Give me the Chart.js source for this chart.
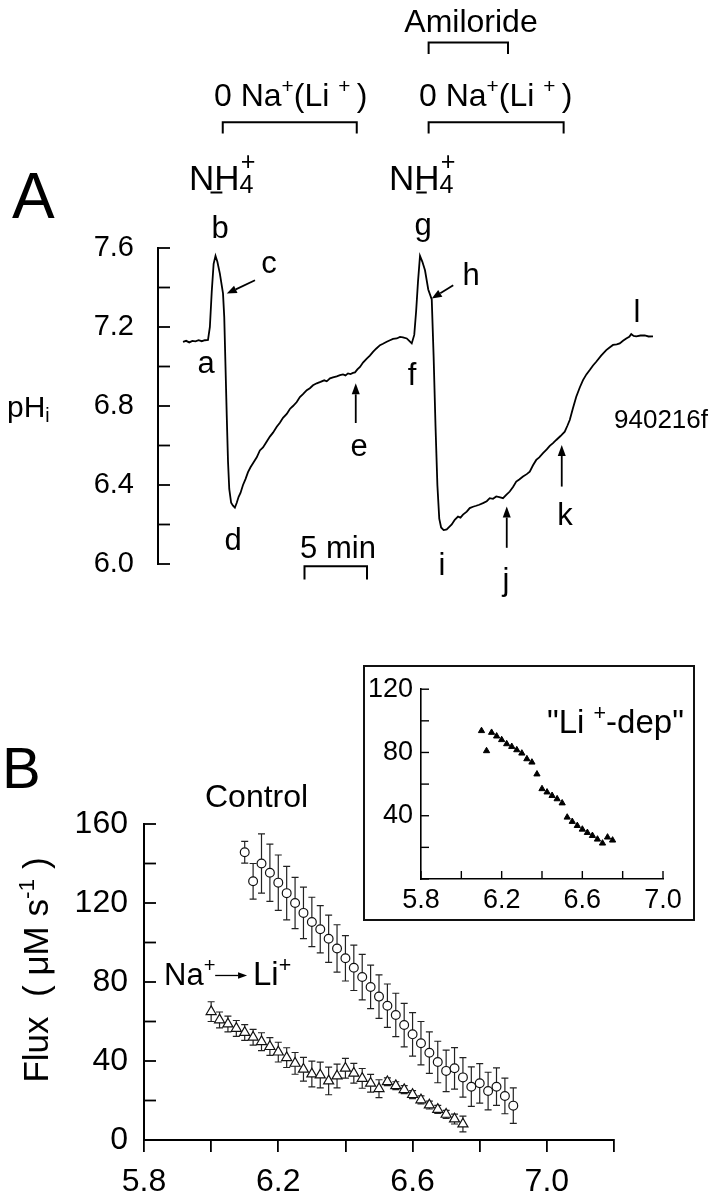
<!DOCTYPE html>
<html>
<head>
<meta charset="utf-8">
<script src="https://cdn.jsdelivr.net/npm/chart.js@4.4.1/dist/chart.umd.min.js"></script>
<style>
  html, body { margin: 0; padding: 0; background: #fff; }
  #fig { position: relative; width: 710px; height: 1200px; overflow: hidden; background: #fff; }
  canvas { position: absolute; }
  #insetBox { position: absolute; left: 363px; top: 665px; width: 332px; height: 256px; box-sizing: border-box; border: 2px solid #111; background: #fff; }
  .t { position: absolute; white-space: nowrap; line-height: 1; color: #000; }
  .t sup { font-size: 0.65em; position: relative; top: -0.62em; vertical-align: baseline; line-height: 1; }
  .t sub { font-size: 0.65em; position: relative; top: 0.3em; vertical-align: baseline; line-height: 1; }
  .st { position: relative; display: inline-block; font-size: 0.72em; }
  .st .dn { position: relative; top: 0.12em; }
  .st .up { position: absolute; left: 0.05em; top: -0.8em; }
  #flux { position: absolute; left: 35px; top: 970px; transform: translate(-50%, -50%) rotate(-90deg); white-space: nowrap; line-height: 1; }
</style>
</head>
<body>
<div id="fig">
  <canvas id="traceA" width="710" height="600" style="left:0;top:0"></canvas>
  <canvas id="fluxB" width="710" height="600" style="left:0;top:600px"></canvas>
  <div id="insetBox"></div>
  <canvas id="insetB" width="332" height="256" style="left:363px;top:665px"></canvas>
  <div id="labels"></div>
</div>
<script>
// ---------- Panel A: pHi trace (time in min, pHi) ----------
const TIME_MIN = [
  0.0, 0.25, 0.5, 0.75, 1.0, 1.25, 1.5, 1.75, 2.0,
  2.15, 2.3, 2.45, 2.6, 2.75, 2.95, 3.2,
  3.3, 3.4, 3.5, 3.6, 3.7, 3.85, 4.0, 4.15,
  4.3, 4.45, 4.6, 4.8, 5.0, 5.2, 5.4, 5.65, 5.9, 6.15, 6.4, 6.55, 6.7, 6.95, 7.2, 7.5, 7.75,
  8.0, 8.3, 8.55, 8.8, 9.1, 9.35, 9.6, 9.9, 10.15, 10.4, 10.7, 11.0, 11.3, 11.5, 11.76,
  12.0, 12.3, 12.56, 12.8, 13.0, 13.2, 13.4, 13.6, 13.76, 13.95, 14.16, 14.4, 14.7, 14.95,
  15.2, 15.45, 15.76, 16.0, 16.3, 16.56, 16.8, 17.1, 17.36, 17.6, 17.9, 18.1, 18.3,
  18.5, 18.65, 18.8, 18.96, 19.15, 19.36, 19.62, 19.9,
  20.05, 20.2, 20.35, 20.5, 20.65, 20.85, 20.94,
  21.1, 21.34, 21.5, 21.74, 22.0, 22.2, 22.4, 22.7, 22.94, 23.2, 23.46, 23.7, 24.0, 24.3,
  24.54, 24.8, 25.06, 25.3, 25.6, 25.9, 26.14, 26.4, 26.66, 26.9, 27.2, 27.5, 27.74, 28.0,
  28.26, 28.5, 28.8, 29.1, 29.34, 29.6, 29.86, 30.2, 30.54, 30.75, 30.94, 31.2, 31.46, 31.75,
  32.0, 32.27, 32.54, 32.8, 33.06, 33.45, 33.86, 34.1, 34.4, 34.7, 34.94, 35.2, 35.46, 35.7,
  35.86, 36.05, 36.26, 36.6, 36.94, 37.25, 37.6
];
const PH_I = [
  7.125, 7.13, 7.122, 7.13, 7.127, 7.133, 7.128, 7.133, 7.135,
  7.20, 7.38, 7.52, 7.56, 7.53, 7.47, 7.37,
  7.25, 7.00, 6.75, 6.52, 6.38, 6.31, 6.295, 6.285,
  6.31, 6.34, 6.36, 6.40, 6.43, 6.465, 6.49, 6.515, 6.54, 6.575, 6.59, 6.605, 6.62, 6.645, 6.665, 6.695, 6.715,
  6.74, 6.76, 6.785, 6.80, 6.82, 6.845, 6.86, 6.88, 6.89, 6.905, 6.915, 6.922, 6.93, 6.925, 6.94,
  6.945, 6.95, 6.956, 6.96, 6.955, 6.965, 6.962, 6.968, 6.97, 6.985, 6.998, 7.02, 7.04, 7.055,
  7.074, 7.09, 7.108, 7.115, 7.125, 7.133, 7.14, 7.142, 7.15, 7.148, 7.142, 7.13, 7.117,
  7.16, 7.28, 7.43, 7.56, 7.53, 7.487, 7.39, 7.34,
  7.05, 6.70, 6.40, 6.23, 6.185, 6.172, 6.173,
  6.175, 6.19, 6.20, 6.224, 6.24, 6.235, 6.25, 6.265, 6.283, 6.29, 6.295, 6.30, 6.308, 6.318,
  6.333, 6.33, 6.342, 6.338, 6.333, 6.352, 6.367, 6.39, 6.417, 6.428, 6.443, 6.455, 6.468, 6.50,
  6.527, 6.54, 6.561, 6.58, 6.598, 6.612, 6.628, 6.648, 6.67, 6.70, 6.729, 6.79, 6.847, 6.895,
  6.931, 6.96, 6.982, 7.005, 7.024, 7.055, 7.083, 7.095, 7.109, 7.112, 7.117, 7.13, 7.142, 7.15,
  7.164, 7.155, 7.153, 7.157, 7.158, 7.152, 7.153
];
const PH_TICKS = [6.0, 6.4, 6.8, 7.2, 7.6];

// ---------- Panel B: flux vs pHi ----------
const CONTROL_PH = [
  6.100, 6.125, 6.150, 6.175, 6.200, 6.225, 6.250, 6.275, 6.300, 6.325, 6.350,
  6.375, 6.400, 6.425, 6.450, 6.475, 6.500, 6.525, 6.550, 6.575, 6.600, 6.625,
  6.650, 6.675, 6.700, 6.725, 6.750, 6.775, 6.800, 6.825, 6.850, 6.875, 6.900
];
const CONTROL_FLUX = [
  145.7, 131, 140, 135.3, 130.3, 125, 120, 115, 110.4, 106.7, 101.9,
  97, 92, 87.2, 82.5, 77.5, 72.6, 68, 63.3, 58.2, 53.5, 49,
  44.2, 39.5, 35, 36.3, 31.7, 27, 28.7, 24.8, 27, 22.3, 17.4
];
const CONTROL_ERR = [
  5.5, 9, 15, 14.5, 14, 13.5, 13, 13, 12.5, 12, 12,
  12, 11.5, 11.5, 11.5, 11, 11, 11, 11, 11, 11, 11,
  10.5, 10.5, 10.5, 10.5, 10, 10, 10, 9.5, 9.5, 9, 9
];
const LI_PH = [
  6.000, 6.025, 6.050, 6.075, 6.100, 6.125, 6.150, 6.175, 6.200, 6.225, 6.250,
  6.275, 6.300, 6.325, 6.350, 6.375, 6.400, 6.425, 6.450, 6.475, 6.500, 6.525,
  6.550, 6.575, 6.600, 6.625, 6.650, 6.675, 6.700, 6.725, 6.750
];
const LI_FLUX = [
  65, 60.8, 58.7, 56.5, 54.4, 52, 49.8, 47.3, 44.5, 41.7, 38.8,
  35.8, 33.4, 32.9, 29.9, 32.4, 36.3, 33.8, 31.2, 28.7, 26, 29.5,
  27.5, 25.5, 23, 20.3, 17.7, 15.5, 13, 10.6, 8.1
];
const LI_ERR = [
  5, 4, 4, 4, 4, 4, 4.5, 4.5, 5, 5, 5.5,
  6, 6.5, 6.5, 7, 6, 5, 5, 5, 4.5, 4.5, 2,
  2, 2, 2, 2, 2, 2, 2, 2.5, 4
];
// inset: "Li+-dependent" flux
const LIDEP_PH = [
  6.100, 6.125, 6.150, 6.175, 6.200, 6.225, 6.250, 6.275, 6.300, 6.325, 6.350,
  6.375, 6.400, 6.425, 6.450, 6.475, 6.500, 6.525, 6.550, 6.575, 6.600, 6.625,
  6.650, 6.675, 6.700, 6.725, 6.750
];
const LIDEP_FLUX = [
  93.7, 81, 92.6, 90.3, 88, 85.4, 83.7, 81.6, 79.5, 75.9, 73.8,
  66.3, 57, 54.9, 52.7, 50.6, 48, 39, 36.3, 33.7, 31.4, 29.3,
  27.4, 25.1, 22.6, 26.4, 24.5
];

const SANS = "'Liberation Sans', Arial, sans-serif";
const NARROW = "'Liberation Sans Narrow', 'Arial Narrow', 'Liberation Sans', Arial, sans-serif";

const pts = (xs, ys) => xs.map((x, i) => ({ x: x, y: ys[i] }));

// ---------- plugins ----------
// tick marks pointing into the plot
const inTicks = {
  id: 'inTicks',
  afterDraw(chart, args, opts) {
    const ctx = chart.ctx, a = chart.chartArea;
    ctx.save();
    ctx.strokeStyle = '#000';
    ctx.lineWidth = opts.width || 1.8;
    ['x', 'y'].forEach(id => {
      const len = opts[id], s = chart.scales[id];
      if (!len || !s) return;
      s.ticks.forEach((t, i) => {
        const p = s.getPixelForTick(i);
        ctx.beginPath();
        if (id === 'y') { ctx.moveTo(a.left, p); ctx.lineTo(a.left + len, p); }
        else { ctx.moveTo(p, a.bottom); ctx.lineTo(p, a.bottom - len); }
        ctx.stroke();
      });
    });
    ctx.restore();
  }
};

const errorBars = {
  id: 'errorBars',
  beforeDatasetsDraw(chart) {
    const ctx = chart.ctx, ys = chart.scales.y;
    chart.data.datasets.forEach((ds, di) => {
      if (!ds.errors) return;
      const meta = chart.getDatasetMeta(di);
      ctx.save();
      ctx.strokeStyle = '#222';
      ctx.lineWidth = 1.2;
      meta.data.forEach((el, i) => {
        const e = ds.errors[i];
        if (!e) return;
        const v = ds.data[i].y;
        const top = ys.getPixelForValue(v + e), bot = ys.getPixelForValue(v - e);
        ctx.beginPath();
        ctx.moveTo(el.x, top); ctx.lineTo(el.x, bot);
        ctx.moveTo(el.x - 3.5, top); ctx.lineTo(el.x + 3.5, top);
        ctx.moveTo(el.x - 3.5, bot); ctx.lineTo(el.x + 3.5, bot);
        ctx.stroke();
      });
      ctx.restore();
    });
  }
};

function arrow(ctx, x0, y0, x1, y1, head, half) {
  const ang = Math.atan2(y1 - y0, x1 - x0);
  const bx = x1 - head * Math.cos(ang), by = y1 - head * Math.sin(ang);
  ctx.beginPath(); ctx.moveTo(x0, y0); ctx.lineTo(bx, by); ctx.stroke();
  ctx.beginPath();
  ctx.moveTo(x1, y1);
  ctx.lineTo(bx + half * Math.sin(ang), by - half * Math.cos(ang));
  ctx.lineTo(bx - half * Math.sin(ang), by + half * Math.cos(ang));
  ctx.closePath(); ctx.fill();
}

// brackets, arrows and the time bar of panel A, placed in (min, pHi) units
const traceMarks = {
  id: 'traceMarks',
  afterDraw(chart) {
    const ctx = chart.ctx, X = v => chart.scales.x.getPixelForValue(v), Y = v => chart.scales.y.getPixelForValue(v);
    ctx.save();
    ctx.strokeStyle = '#000'; ctx.fillStyle = '#000'; ctx.lineWidth = 2;
    const bracket = (t0, t1, top, leg) => {
      ctx.beginPath();
      ctx.moveTo(X(t0), Y(leg)); ctx.lineTo(X(t0), Y(top)); ctx.lineTo(X(t1), Y(top)); ctx.lineTo(X(t1), Y(leg));
      ctx.stroke();
    };
    bracket(3.18, 13.9, 8.237, 8.18);      // 0 Na+ (Li+)
    bracket(19.65, 30.45, 8.237, 8.18);    // 0 Na+ (Li+)
    bracket(19.65, 26.0, 8.641, 8.582);    // amiloride
    bracket(9.72, 14.72, 5.988, 5.921);    // 5 min
    // NH4+ pulses
    ctx.beginPath();
    ctx.moveTo(X(2.2), Y(7.881)); ctx.lineTo(X(3.15), Y(7.881));
    ctx.moveTo(X(18.66), Y(7.881)); ctx.lineTo(X(19.5), Y(7.881));
    ctx.stroke();
    // arrows
    ctx.lineWidth = 1.8;
    arrow(ctx, X(5.76), Y(7.437), X(3.5), Y(7.369), 10, 4);
    arrow(ctx, X(21.62), Y(7.411), X(19.9), Y(7.344), 10, 4);
    arrow(ctx, X(13.82), Y(6.714), X(13.82), Y(6.915), 11, 4);
    arrow(ctx, X(25.9), Y(6.082), X(25.9), Y(6.291), 11, 4);
    arrow(ctx, X(30.3), Y(6.392), X(30.3), Y(6.603), 11, 4);
    ctx.restore();
  }
};

const fluxMarks = {
  id: 'fluxMarks',
  afterDraw(chart) {
    const ctx = chart.ctx, X = v => chart.scales.x.getPixelForValue(v), Y = v => chart.scales.y.getPixelForValue(v);
    ctx.save();
    ctx.strokeStyle = '#000'; ctx.fillStyle = '#000'; ctx.lineWidth = 1.3;
    arrow(ctx, X(6.012), Y(83.3), X(6.107), Y(83.3), 9, 3.2);
    ctx.restore();
  }
};

const common = {
  responsive: false,
  animation: false,
  events: [],
  plugins: { legend: { display: false }, tooltip: { enabled: false } }
};

// ---------- Panel A ----------
new Chart(document.getElementById('traceA'), {
  type: 'line',
  data: { datasets: [{ data: pts(TIME_MIN, PH_I), borderColor: '#000', borderWidth: 1.8, pointRadius: 0, tension: 0, fill: false }] },
  plugins: [inTicks, traceMarks],
  options: Object.assign({}, common, {
    layout: { padding: { left: 0, top: 248, right: 15, bottom: 36 } },
    plugins: Object.assign({}, common.plugins, { inTicks: { y: 12, width: 1.8 } }),
    scales: {
      x: { type: 'linear', display: false, min: -2, max: 40.96 },
      y: {
        type: 'linear', min: 6.0, max: 7.6,
        afterFit(s) { s.width = 158; },
        border: { display: true, color: '#000', width: 2 },
        // invisible outer tick marks only push the labels away from the axis
        grid: { display: true, drawOnChartArea: false, drawTicks: true, tickLength: 24, color: 'rgba(0,0,0,0)' },
        ticks: {
          stepSize: 0.2, padding: 0, color: '#000', autoSkip: false,
          font: { family: NARROW, size: 29 },
          callback: v => PH_TICKS.some(p => Math.abs(p - v) < 1e-6) ? v.toFixed(1) : ''
        }
      }
    }
  })
});

// ---------- Panel B ----------
new Chart(document.getElementById('fluxB'), {
  type: 'scatter',
  data: {
    datasets: [
      { data: pts(CONTROL_PH, CONTROL_FLUX), errors: CONTROL_ERR, pointStyle: 'circle', pointRadius: 4.4,
        borderColor: '#111', borderWidth: 1.2, backgroundColor: '#fff' },
      { data: pts(LI_PH, LI_FLUX), errors: LI_ERR, pointStyle: 'triangle', pointRadius: 5.8,
        borderColor: '#111', borderWidth: 1.2, backgroundColor: '#fff' }
    ]
  },
  plugins: [errorBars, inTicks, fluxMarks],
  options: Object.assign({}, common, {
    layout: { padding: { left: 0, top: 224, right: 96, bottom: 0 } },
    plugins: Object.assign({}, common.plugins, { inTicks: { y: 12, width: 1.8 } }),
    scales: {
      x: {
        type: 'linear', min: 5.8, max: 7.2,
        afterFit(s) { s.height = 60; },
        border: { display: true, color: '#000', width: 2 },
        grid: { display: true, drawOnChartArea: false, drawTicks: true, tickLength: 12, color: '#000', lineWidth: 1.8 },
        ticks: {
          stepSize: 0.2, padding: 11, color: '#000', autoSkip: false, maxRotation: 0,
          font: { family: NARROW, size: 32 },
          callback: (v, i) => i % 2 === 0 ? v.toFixed(1) : ''
        }
      },
      y: {
        type: 'linear', min: 0, max: 160,
        afterFit(s) { s.width = 144; },
        border: { display: true, color: '#000', width: 2 },
        grid: { display: false, drawTicks: false },
        ticks: {
          stepSize: 20, padding: 16, color: '#000', autoSkip: false,
          font: { family: NARROW, size: 32 },
          callback: v => v % 40 === 0 ? String(v) : ''
        }
      }
    }
  })
});

// ---------- Inset ----------
new Chart(document.getElementById('insetB'), {
  type: 'scatter',
  data: {
    datasets: [
      { data: pts(LIDEP_PH, LIDEP_FLUX), pointStyle: 'triangle', pointRadius: 3.6,
        borderColor: '#000', borderWidth: 1, backgroundColor: '#000' }
    ]
  },
  plugins: [inTicks],
  options: Object.assign({}, common, {
    layout: { padding: { left: 0, top: 24, right: 32, bottom: 0 } },
    plugins: Object.assign({}, common.plugins, { inTicks: { x: 8, y: 8, width: 1.4 } }),
    scales: {
      x: {
        type: 'linear', min: 5.8, max: 7.0,
        afterFit(s) { s.height = 42; },
        border: { display: true, color: '#000', width: 1.6 },
        grid: { display: false, drawTicks: false },
        ticks: {
          stepSize: 0.2, padding: 5, color: '#000', autoSkip: false, maxRotation: 0,
          font: { family: NARROW, size: 27 },
          callback: (v, i) => i % 2 === 0 ? v.toFixed(1) : ''
        }
      },
      y: {
        type: 'linear', min: 0, max: 120,
        afterFit(s) { s.width = 58; },
        border: { display: true, color: '#000', width: 1.6 },
        grid: { display: false, drawTicks: false },
        ticks: {
          stepSize: 20, padding: 8, color: '#000', autoSkip: false,
          font: { family: NARROW, size: 27 },
          callback: v => (v > 0 && v % 40 === 0) ? String(v) : ''
        }
      }
    }
  })
});

// ---------- text ----------
const NH4 = 'NH<span class="st"><span class="up">+</span><span class="dn">4</span></span>';
const NA0 = '0 Na<sup>+</sup>(Li <sup>+</sup>&thinsp;)';
const TEXTS = [
  ['A', 12, 218, 64, 'l', NARROW],
  ['B', 2, 788, 58, 'l', NARROW],
  ['pH<sub>i</sub>', 7, 417, 30, 'l', SANS],
  ['Amiloride', 471, 32, 32, 'c', SANS],
  [NA0, 214, 106, 32, 'l', SANS],
  [NA0, 419, 106, 32, 'l', SANS],
  [NH4, 189, 190, 35, 'l', SANS],
  [NH4, 389, 190, 35, 'l', SANS],
  ['b', 220, 238, 31, 'c', SANS],
  ['g', 423, 235, 31, 'c', SANS],
  ['c', 269, 273, 31, 'c', SANS],
  ['h', 471, 285, 31, 'c', SANS],
  ['a', 206, 373, 31, 'c', SANS],
  ['f', 412, 385, 31, 'c', SANS],
  ['d', 233, 550, 31, 'c', SANS],
  ['e', 359, 456, 31, 'c', SANS],
  ['i', 442, 575, 31, 'c', SANS],
  ['j', 506, 590, 31, 'c', SANS],
  ['k', 565, 525, 31, 'c', SANS],
  ['l', 637, 322, 31, 'c', SANS],
  ['5 min', 338, 558, 31, 'c', SANS],
  ['940216f', 614, 428, 26, 'l', SANS],
  ['Control', 205, 807, 32, 'l', SANS],
  ['Na<sup>+</sup>', 164, 985, 31, 'l', SANS],
  ['Li<sup>+</sup>', 253, 985, 33, 'l', SANS],
  ['"Li <sup>+</sup>-dep"', 547, 733, 33, 'l', SANS]
];
const layer = document.getElementById('labels');
TEXTS.forEach(([html, x, base, size, align, fam]) => {
  const d = document.createElement('div');
  d.className = 't';
  d.innerHTML = html;
  d.style.fontFamily = fam;
  d.style.fontSize = size + 'px';
  d.style.top = (base - 0.8465 * size) + 'px';
  d.style.left = x + 'px';
  if (align === 'c') d.style.transform = 'translateX(-50%)';
  layer.appendChild(d);
});
const flux = document.createElement('div');
flux.id = 'flux';
flux.className = 't';
flux.style.fontFamily = SANS;
flux.style.fontSize = '35px';
flux.innerHTML = 'Flux&nbsp;&nbsp;(&nbsp;μM s<sup>-1</sup>&nbsp;)';
layer.appendChild(flux);
</script>
</body>
</html>
